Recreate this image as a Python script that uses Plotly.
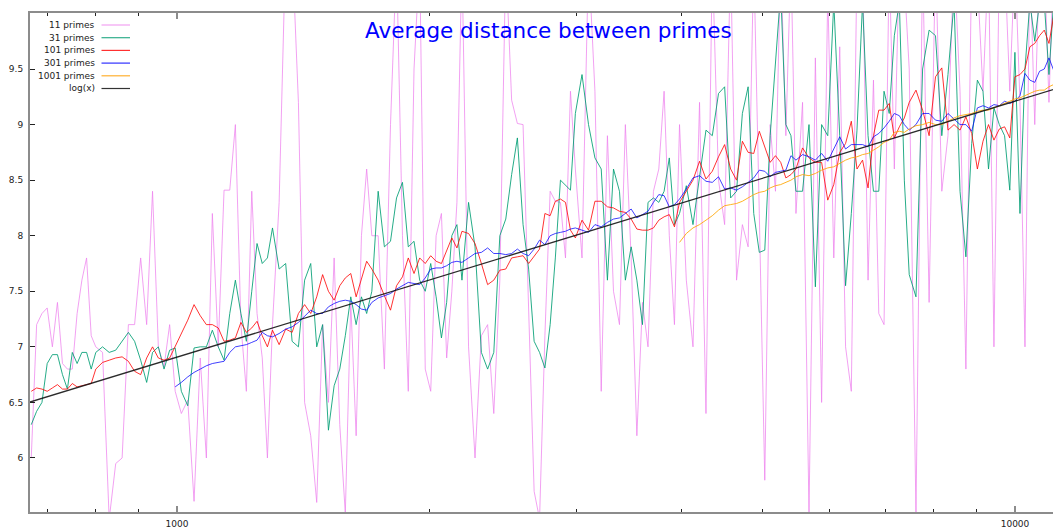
import plotly.graph_objects as go

# ---------------- data ----------------
n_values = [
    670, 680, 690, 700, 710, 720, 730, 740, 750, 760, 770, 780, 790, 800,
    815, 830, 845, 860, 875, 890, 905, 920, 935, 950, 965, 980, 995,
    1012, 1030, 1048, 1066, 1084, 1102, 1120, 1138, 1156, 1174, 1192, 1210, 1228, 1246, 1264, 1282, 1300,
    1324, 1348, 1372, 1396, 1420, 1444, 1468, 1492, 1516, 1540, 1564, 1588, 1612, 1636, 1660, 1684, 1708,
    1738, 1768, 1798, 1828, 1858, 1888, 1918, 1948, 1978, 2008, 2038, 2068, 2098, 2128, 2158, 2188,
    2228, 2268, 2308, 2348, 2388, 2428, 2468, 2508, 2548, 2588, 2628, 2668, 2708, 2748, 2788, 2828, 2868, 2908, 2948, 2988,
    3043, 3098, 3153, 3208, 3263, 3318, 3373, 3428, 3483, 3538, 3593, 3648, 3703, 3758, 3813, 3868, 3923, 3978,
    4053, 4128, 4203, 4278, 4353, 4428, 4503, 4578, 4653, 4728, 4803, 4878, 4953, 5028, 5103, 5178, 5253, 5328, 5403, 5478,
    5578, 5678, 5778, 5878, 5978, 6078, 6178, 6278, 6378, 6478, 6578, 6678, 6778, 6878, 6978, 7078, 7178, 7278, 7378, 7478,
    7618, 7758, 7898, 8038, 8178, 8318, 8458, 8598, 8738, 8878, 9018, 9158, 9298, 9438, 9578, 9718, 9858, 9998,
    10138, 10278, 10418, 10558, 10698, 10838, 10978, 11118,
]

primes_11 = [
    6.0, 7.2, 7.3, 7.35, 7.0, 7.4, 6.85, 6.8, 6.8, 7.3, 7.6, 7.8, 7.1, 7.0,
    6.95, 5.45, 5.95, 6.0, 7.2, 7.2, 7.8, 7.2, 8.4, 7.0, 6.82, 7.2, 6.6,
    6.4, 6.52, 5.61, 6.9, 6.0, 8.2, 7.0, 8.41, 8.41, 9.0, 7.2, 6.6, 8.4, 7.3, 6.9, 6.0, 7.2,
    8.3, 10.6, 10.6, 9.2, 6.5, 6.2, 5.6, 7.2, 6.5, 7.8, 6.3, 5.5, 7.4, 6.2, 8.0, 8.6, 8.0,
    8.0, 6.8, 9.0, 10.5, 8.0, 6.6, 9.5, 10.5, 6.8, 6.6, 8.0, 8.2, 6.9, 7.5, 8.3, 10.5,
    7.0, 6.0, 7.1, 7.2, 6.4, 7.6, 10.5, 9.22, 9.01, 9.0, 7.4, 5.7, 5.45, 7.1, 8.4, 8.31, 8.3, 7.8, 9.3, 8.6,
    7.8, 10.5, 9.3, 6.6, 8.9, 7.5, 7.2, 9.0, 7.8, 6.2, 7.4, 7.0, 8.4, 8.6, 9.3, 8.0, 7.2, 9.0,
    7.6, 7.0, 9.2, 6.4, 10.5, 8.5, 8.1, 10.5, 7.6, 8.1, 7.9, 10.5, 8.2, 5.8, 9.0, 8.4, 10.5, 8.9, 10.5, 8.2,
    9.2, 5.5, 9.6, 6.5, 10.2, 7.8, 9.7, 7.0, 6.6, 10.5, 10.5, 7.6, 9.4, 7.3, 7.2, 10.5, 8.6, 10.5, 10.3, 9.5,
    5.5, 10.5, 7.4, 10.5, 8.4, 8.9, 10.5, 9.3, 6.8, 10.5, 10.3, 9.3, 10.5, 7.0, 10.5, 10.5, 9.3, 10.5,
    9.2, 7.0, 10.5, 9.0, 10.5, 10.5, 9.2, 10.5,
]

primes_31 = [
    6.3, 6.42, 6.5, 6.85, 6.93, 6.93, 6.75, 6.62, 6.95, 6.85, 6.95, 6.95, 6.8, 6.95,
    7.0, 6.95, 6.97, 7.05, 7.13, 7.05, 6.88, 6.68, 6.95, 7.0, 6.8, 6.97, 6.99,
    6.6, 6.47, 6.99, 7.0, 7.0, 7.15, 7.0, 6.88, 7.3, 7.6, 7.3, 7.05, 7.5, 7.93, 7.75, 7.8, 8.07,
    7.7, 7.75, 7.05, 7.0, 7.6, 7.75, 7.0, 7.2, 6.25, 6.65, 6.8, 7.1, 7.45, 7.2, 7.45, 7.3, 7.5,
    8.4, 7.9, 7.95, 8.34, 8.48, 7.9, 7.95, 7.6, 7.5, 7.75, 7.45, 7.08, 7.4, 8.0, 8.1, 7.6,
    8.3, 7.9, 6.95, 6.8, 6.95, 8.0, 8.15, 8.55, 8.88, 8.1, 7.7, 7.05, 6.95, 6.81, 7.2, 7.8, 8.5, 8.45, 8.41, 9.1,
    9.45, 9.0, 8.7, 8.6, 7.6, 8.6, 8.4, 7.6, 7.9, 7.6, 7.2, 8.3, 8.34, 8.3, 8.4, 8.7, 8.1, 8.2,
    8.45, 8.1, 8.55, 8.95, 8.9, 9.28, 9.34, 8.34, 8.4, 9.1, 9.34, 8.2, 7.85, 7.87, 8.9, 9.54, 10.2, 9.0, 8.9, 8.4,
    8.4, 9.0, 7.54, 9.0, 8.9, 10.1, 8.9, 7.55, 8.2, 8.95, 10.1, 8.9, 8.4, 8.4, 9.3, 9.1, 9.8, 10.1, 8.5, 7.65,
    7.45, 9.5, 9.85, 9.8, 8.9, 9.45, 10.1, 8.4, 7.81, 8.83, 9.4, 9.3, 8.6, 9.15, 9.0, 8.9, 8.41, 9.65,
    8.2, 9.5, 10.1, 9.75, 10.1, 10.1, 9.45, 10.1,
]

primes_101 = [
    6.6, 6.63, 6.62, 6.6, 6.63, 6.66, 6.62, 6.62, 6.67, 6.64, 6.65, 6.66, 6.67, 6.8,
    6.86, 6.88, 6.9, 6.91, 6.87, 6.78, 6.75, 6.9, 7.0, 6.9, 6.88, 6.9, 7.0,
    7.12, 7.24, 7.38, 7.28, 7.2, 7.2, 7.17, 7.05, 7.06, 7.08, 7.22, 7.13, 7.17, 7.23, 7.1, 7.0, 7.15,
    7.02, 7.16, 7.13, 7.3, 7.38, 7.3, 7.45, 7.65, 7.5, 7.42, 7.55, 7.62, 7.66, 7.45, 7.62, 7.77, 7.7,
    7.6, 7.46, 7.33, 7.55, 7.63, 7.8, 7.66, 7.8, 7.75, 7.82, 7.77, 7.75, 7.86, 7.98, 7.89, 8.04,
    8.02, 7.93, 7.75, 7.56, 7.6, 7.69, 7.7, 7.8, 7.81, 7.82, 7.75, 7.82, 7.88, 8.2, 8.18, 8.31, 8.33, 8.3, 8.05, 7.98,
    8.14, 8.05, 8.31, 8.31, 8.26, 8.25, 8.22, 8.21, 8.15, 8.06, 8.05, 8.05, 8.07, 8.14, 8.17, 8.19, 8.08, 8.3,
    8.4, 8.5, 8.67, 8.51, 8.58, 8.71, 8.82, 8.6, 8.5, 8.85, 8.75, 8.74, 8.94, 8.8, 8.66, 8.72, 8.66, 8.52, 8.55, 8.6,
    8.79, 8.7, 8.66, 8.66, 8.32, 8.46, 8.75, 8.83, 9.03, 8.6, 8.68, 8.43, 8.9, 9.13, 9.13, 9.19, 8.88, 8.98, 9.06, 9.2,
    9.31, 9.13, 8.9, 9.43, 9.51, 8.95, 9.0, 8.95, 9.07, 8.92, 8.6, 8.85, 9.0, 8.86, 8.96, 8.98, 8.88, 9.43,
    9.45, 9.5, 9.7, 9.73, 9.8, 9.85, 9.73, 9.97,
]

# starts at n = 995 (aligned to the end of n_values)
primes_301 = [
    6.64,
    6.68, 6.73, 6.77, 6.8, 6.83, 6.85, 6.86, 6.87, 6.95, 7.0, 7.01, 7.02, 7.04, 7.06, 7.13, 7.1, 7.09,
    7.12, 7.16, 7.18, 7.22, 7.28, 7.33, 7.3, 7.3, 7.36, 7.39, 7.41, 7.42, 7.41, 7.38, 7.34, 7.33, 7.4,
    7.44, 7.46, 7.48, 7.52, 7.55, 7.58, 7.57, 7.56, 7.62, 7.7, 7.71, 7.71, 7.73, 7.76, 7.77, 7.76,
    7.8, 7.84, 7.85, 7.89, 7.84, 7.84, 7.83, 7.84, 7.88, 7.84, 7.82, 7.88, 7.96, 7.92, 8.0, 8.02, 8.03, 8.04, 8.06, 8.07,
    8.05, 8.03, 8.1, 8.08, 8.12, 8.15, 8.16, 8.2, 8.24, 8.16, 8.19, 8.22, 8.3, 8.37, 8.36, 8.26, 8.28, 8.33,
    8.42, 8.52, 8.54, 8.49, 8.48, 8.53, 8.42, 8.43, 8.41, 8.44, 8.48, 8.52, 8.59, 8.58, 8.53, 8.57, 8.58, 8.59, 8.72, 8.68,
    8.73, 8.71, 8.68, 8.74, 8.67, 8.78, 8.89, 8.78, 8.82, 8.82, 8.82, 8.8, 8.89, 8.92, 8.97, 9.03, 9.1, 9.08, 9.0, 8.95,
    9.0, 9.1, 9.1, 9.04, 9.03, 9.1, 9.05, 9.0, 9.0, 8.94, 9.15, 9.17, 9.15, 9.18, 9.17, 9.21, 9.19, 9.21,
    9.26, 9.46, 9.4, 9.38, 9.48, 9.5, 9.6, 9.49,
]

# starts at n = 3978 (aligned to the end of n_values)
primes_1001 = [
    7.94,
    8.02, 8.07, 8.1, 8.14, 8.18, 8.23, 8.27, 8.28, 8.29, 8.31, 8.34, 8.37, 8.39, 8.4, 8.43, 8.45, 8.46, 8.48, 8.5, 8.53,
    8.55, 8.54, 8.56, 8.59, 8.61, 8.62, 8.65, 8.68, 8.7, 8.71, 8.73, 8.74, 8.77, 8.8, 8.84, 8.86, 8.93, 8.94, 8.93, 8.96,
    8.99, 9.0, 9.02, 9.0, 9.0, 9.03, 9.06, 9.08, 9.09, 9.1, 9.12, 9.13, 9.13, 9.15, 9.17, 9.19, 9.21, 9.23,
    9.24, 9.26, 9.28, 9.3, 9.31, 9.31, 9.34, 9.36,
]

log_n = [600, 1000, 2000, 4000, 8000, 12000]
log_values = [6.397, 6.908, 7.601, 8.294, 8.987, 9.393]

series_names = ["11 primes", "31 primes", "101 primes", "301 primes", "1001 primes", "log(x)"]
series_colors = ["rgba(238,130,238,0.75)", "rgba(0,158,115,0.85)", "rgba(255,0,0,0.8)",
                 "rgba(0,0,255,0.75)", "rgba(255,165,0,0.85)", "rgba(20,20,20,0.9)"]
key_colors = ["#f4b4f4", "#30ae8c", "#ff3030", "#3030ff", "#ffb030", "#333333"]

x_tick_values = [1000, 10000]
x_tick_labels = ["1000", "10000"]
x_minor_ticks = [700, 800, 900, 2000, 3000, 4000, 5000, 6000, 7000, 8000, 9000]
y_tick_values = [6, 6.5, 7, 7.5, 8, 8.5, 9, 9.5]
y_tick_labels = ["6", "6.5", "7", "7.5", "8", "8.5", "9", "9.5"]
title_text = "Average distance between primes"

# ---------------- figure ----------------
FONT = "DejaVu Sans"
fig = go.Figure()

series_y = [primes_11, primes_31, primes_101, primes_301, primes_1001]
for name, color, ys in zip(series_names[:5], series_colors[:5], series_y):
    xs = n_values[len(n_values) - len(ys):]
    fig.add_trace(go.Scatter(x=xs, y=ys, mode="lines", name=name,
                             line=dict(color=color, width=1)))
fig.add_trace(go.Scatter(x=log_n, y=log_values, mode="lines", name=series_names[5],
                         line=dict(color=series_colors[5], width=1.3)))

# plot area geometry in pixels
PL, PR, PT, PB = 30, 1053, 13, 512
W, H = 1053, 529


def px_x(px):
    return (px - PL) / (PR - PL)


def px_y(py):
    return (PB - py) / (PB - PT)


fig.update_layout(
    width=W, height=H,
    margin=dict(l=PL, r=W - PR, t=PT, b=H - PB, autoexpand=False),
    paper_bgcolor="white", plot_bgcolor="white",
    showlegend=False,
    font=dict(family=FONT, size=9, color="#222222"),
)

fig.update_xaxes(
    type="log", range=[2.82458, 4.04535], automargin=False,
    showline=True, linecolor="#8c8c8c", linewidth=2, mirror="ticks",
    ticks="inside", ticklen=6, tickwidth=2, tickcolor="#8c8c8c",
    tickvals=x_tick_values, ticktext=x_tick_labels,
    tickfont=dict(family=FONT, size=9, color="#222222"),
    ticklabelstandoff=2,
    minor=dict(ticks="inside", ticklen=3, tickwidth=1, tickcolor="#222222",
               tickvals=x_minor_ticks, showgrid=False),
    showgrid=False, zeroline=False,
)
fig.update_yaxes(
    range=[5.514, 10.004], automargin=False,
    showline=True, linecolor="#8c8c8c", linewidth=2,
    ticks="inside", ticklen=5, tickwidth=1, tickcolor="#222222",
    tickvals=y_tick_values, ticktext=y_tick_labels,
    tickfont=dict(family=FONT, size=9, color="#222222"),
    ticklabelstandoff=3,
    showgrid=False, zeroline=False,
)

# title inside the plot
fig.add_annotation(text=title_text, xref="paper", yref="paper",
                   x=px_x(548), y=px_y(30), xanchor="center", yanchor="middle",
                   showarrow=False, font=dict(family=FONT, size=21.5, color="#0000ff"))

# gnuplot-style key: label right-aligned, sample line to its right
for i, (name, color) in enumerate(zip(series_names, key_colors)):
    yy = 25 + 12.7 * i
    fig.add_annotation(text=name, xref="paper", yref="paper",
                       x=px_x(97), y=px_y(yy), xanchor="right", yanchor="middle",
                       showarrow=False, font=dict(family=FONT, size=9, color="#222222"))
    fig.add_shape(type="line", xref="paper", yref="paper",
                  x0=px_x(101.5), x1=px_x(130), y0=px_y(yy), y1=px_y(yy),
                  line=dict(color=color, width=1.5 if i == 0 else 1.2))

fig.write_html("out.html")
